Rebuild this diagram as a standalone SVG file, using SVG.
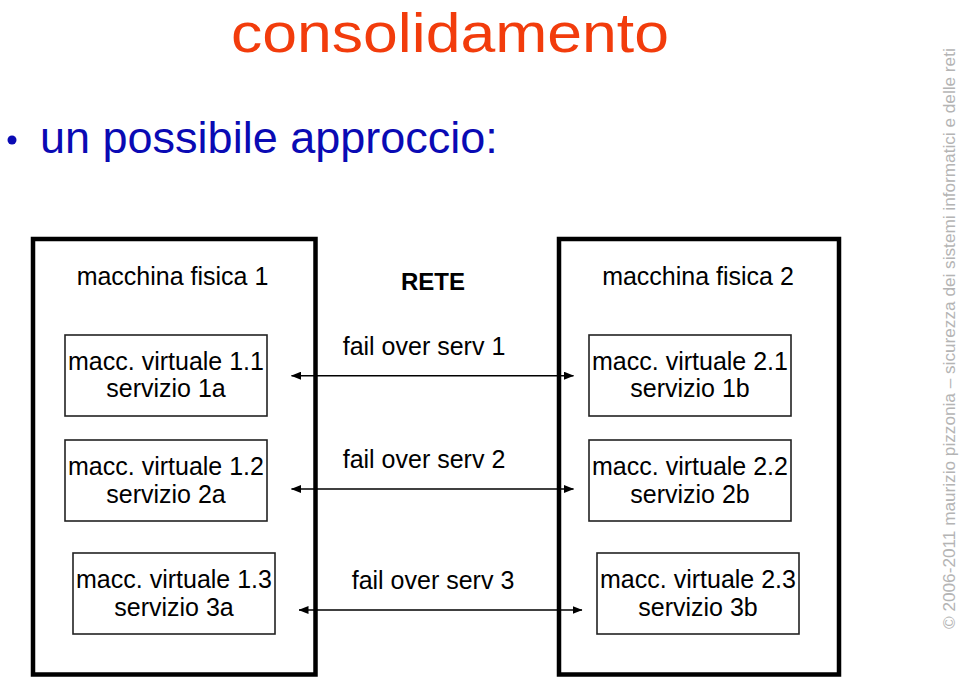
<svg xmlns="http://www.w3.org/2000/svg" width="959" height="678" viewBox="0 0 959 678">
<style>
text { font-family: "Liberation Sans", Arial, sans-serif; fill: #000; }
.t25 { font-size: 25px; text-anchor: middle; }
.phys { fill: none; stroke: #000; stroke-width: 4.5; }
.vm { fill: #fff; stroke: #222; stroke-width: 1.6; }
.conn { stroke: #000; stroke-width: 1.5; fill: none; marker-start: url(#ah); marker-end: url(#ah); }
</style>
<defs>
<marker id="ah" viewBox="0 0 10 8" refX="9.5" refY="4" markerWidth="10" markerHeight="8" markerUnits="userSpaceOnUse" orient="auto-start-reverse">
<path d="M0,0 L10,4 L0,8 Z" fill="#000"/>
</marker>
</defs>
<rect width="959" height="678" fill="#fff"/>
<text x="450" y="51.5" textLength="438" lengthAdjust="spacingAndGlyphs" style="font-size:56px;text-anchor:middle;fill:#f23c0c">consolidamento</text>
<circle cx="12" cy="140" r="4.5" fill="#0a0ab4"/>
<text x="40" y="153" style="font-size:45px;fill:#0a0ab4">un possibile approccio:</text>
<text transform="translate(955,629) rotate(-90)" style="font-size:17.2px;fill:#b4b4b4">© 2006-2011 maurizio pizzonia – sicurezza dei sistemi informatici e delle reti</text>

<g id="phys1">
<rect class="phys" x="33" y="239" width="282.5" height="435.5"/>
<text class="t25" x="172.5" y="285">macchina fisica 1</text>
</g>
<g id="phys2">
<rect class="phys" x="559" y="239" width="280" height="435.5"/>
<text class="t25" x="698" y="285">macchina fisica 2</text>
</g>
<g id="rete">
<text x="433" y="290" style="font-size:24px;font-weight:bold;text-anchor:middle">RETE</text>
</g>

<g id="vm11">
<rect class="vm" x="65" y="335" width="202" height="81"/>
<text class="t25" x="166" y="370">macc. virtuale 1.1</text>
<text class="t25" x="166" y="397">servizio 1a</text>
</g>
<g id="vm12">
<rect class="vm" x="65" y="440" width="202" height="81"/>
<text class="t25" x="166" y="475">macc. virtuale 1.2</text>
<text class="t25" x="166" y="503">servizio 2a</text>
</g>
<g id="vm13">
<rect class="vm" x="73" y="553" width="202" height="81"/>
<text class="t25" x="174" y="588">macc. virtuale 1.3</text>
<text class="t25" x="174" y="616">servizio 3a</text>
</g>
<g id="vm21">
<rect class="vm" x="589" y="335" width="202" height="81"/>
<text class="t25" x="690" y="370">macc. virtuale 2.1</text>
<text class="t25" x="690" y="397">servizio 1b</text>
</g>
<g id="vm22">
<rect class="vm" x="589" y="440" width="202" height="81"/>
<text class="t25" x="690" y="475">macc. virtuale 2.2</text>
<text class="t25" x="690" y="503">servizio 2b</text>
</g>
<g id="vm23">
<rect class="vm" x="597" y="553" width="202" height="81"/>
<text class="t25" x="698" y="588">macc. virtuale 2.3</text>
<text class="t25" x="698" y="616">servizio 3b</text>
</g>

<g id="connectors">
<line class="conn" x1="291.5" y1="375.7" x2="573.5" y2="375.7"/>
<line class="conn" x1="291.5" y1="489" x2="573.5" y2="489"/>
<line class="conn" x1="299" y1="610" x2="582" y2="610"/>
<text class="t25" x="424" y="355">fail over serv 1</text>
<text class="t25" x="424" y="468">fail over serv 2</text>
<text class="t25" x="433" y="589">fail over serv 3</text>
</g>
</svg>
